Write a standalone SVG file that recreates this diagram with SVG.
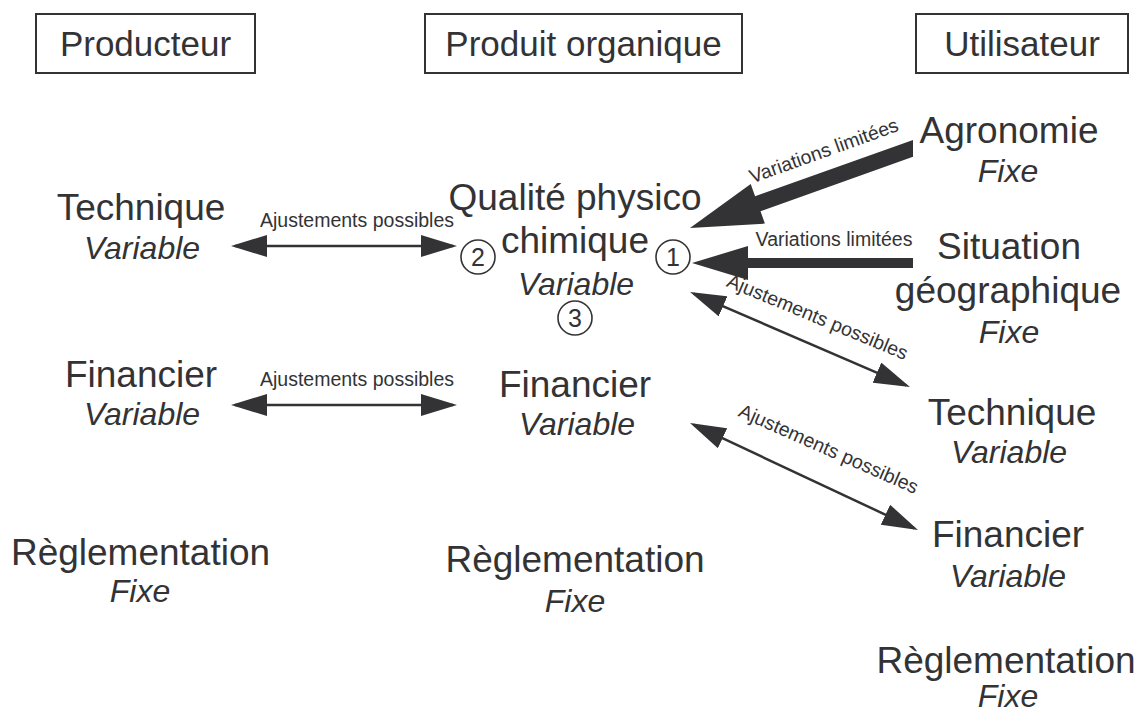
<svg xmlns="http://www.w3.org/2000/svg" width="1141" height="713" viewBox="0 0 1141 713">
<style>
text{font-family:"Liberation Sans",Arial,sans-serif;fill:#333335;text-anchor:middle}
.h{font-size:35px}
.m{font-size:37px}
.i{font-size:32px;font-style:italic}
.l{font-size:19.5px}
.n{font-size:25px}
.box{fill:#fff;stroke:#333335;stroke-width:2}
.circ{fill:none;stroke:#333335;stroke-width:1.6}
.thin{stroke:#333335;stroke-width:2.5;fill:none;marker-start:url(#ah);marker-end:url(#ah)}
.thick{fill:#333335}
</style>
<defs>
<marker id="ah" viewBox="0 -11 36 22" refX="32" refY="0" markerWidth="36" markerHeight="22" markerUnits="userSpaceOnUse" orient="auto-start-reverse">
<path d="M0,-11 L36,0 L0,11 z" fill="#333335"/>
</marker>
</defs>
<g id="headers">
<g id="h-producteur"><rect class="box" x="36" y="14" width="219" height="59"/><text class="h" x="145.5" y="56">Producteur</text></g>
<g id="h-produit"><rect class="box" x="425" y="14" width="317" height="59"/><text class="h" x="583.5" y="56">Produit organique</text></g>
<g id="h-utilisateur"><rect class="box" x="916" y="14" width="212" height="59"/><text class="h" x="1022" y="56">Utilisateur</text></g>
</g>
<g id="connectors">
<line class="thin" x1="235" y1="246" x2="453" y2="246"/>
<text class="l" x="357" y="227">Ajustements possibles</text>
<line class="thin" x1="235" y1="405" x2="453" y2="405"/>
<text class="l" x="357" y="386">Ajustements possibles</text>
<polygon class="thick" points="913,139.9 755.1,196.3 750.7,184 690,228 764.9,223.6 760.5,211.3 913,156.8"/>
<text class="l" transform="translate(826,157) rotate(-19.7)">Variations limitées</text>
<polygon class="thick" points="913,258 748,258 748,246 692,263 748,280 748,268 913,268"/>
<text class="l" x="834" y="246">Variations limitées</text>
<line class="thin" x1="693.7" y1="293.6" x2="906.3" y2="385.4"/>
<text class="l" transform="translate(815,323) rotate(22.5)">Ajustements possibles</text>
<line class="thin" x1="693.6" y1="424.7" x2="914.4" y2="528.3"/>
<text class="l" transform="translate(826,455) rotate(23.8)">Ajustements possibles</text>
</g>
<g id="p-technique"><text class="m" x="141" y="220">Technique</text><text class="i" x="142" y="259">Variable</text></g>
<g id="p-financier"><text class="m" x="141" y="387">Financier</text><text class="i" x="142" y="425">Variable</text></g>
<g id="p-reglementation"><text class="m" x="140.5" y="565">Règlementation</text><text class="i" x="140" y="602">Fixe</text></g>
<g id="o-qualite"><text class="m" x="575" y="210">Qualité physico</text><text class="m" x="575" y="253">chimique</text><text class="i" x="576" y="295">Variable</text></g>
<g id="o-financier"><text class="m" x="575" y="397">Financier</text><text class="i" x="577" y="435">Variable</text></g>
<g id="o-reglementation"><text class="m" x="575" y="572">Règlementation</text><text class="i" x="575" y="612">Fixe</text></g>
<g id="c2"><circle class="circ" cx="478" cy="257" r="17"/><text class="n" x="478" y="266">2</text></g>
<g id="c1"><circle class="circ" cx="673" cy="257" r="17"/><text class="n" x="673" y="266">1</text></g>
<g id="c3"><circle class="circ" cx="575" cy="318" r="17"/><text class="n" x="575" y="327">3</text></g>
<g id="u-agronomie"><text class="m" x="1009" y="143">Agronomie</text><text class="i" x="1008" y="182">Fixe</text></g>
<g id="u-situation"><text class="m" x="1009" y="259">Situation</text><text class="m" x="1008" y="303">géographique</text><text class="i" x="1009" y="343">Fixe</text></g>
<g id="u-technique"><text class="m" x="1012" y="425">Technique</text><text class="i" x="1009" y="463">Variable</text></g>
<g id="u-financier"><text class="m" x="1008" y="547">Financier</text><text class="i" x="1008" y="587">Variable</text></g>
<g id="u-reglementation"><text class="m" x="1006" y="673">Règlementation</text><text class="i" x="1008" y="707">Fixe</text></g>
</svg>
